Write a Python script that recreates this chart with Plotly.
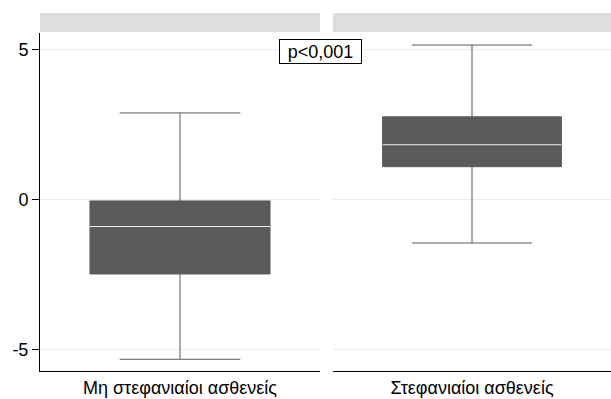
import plotly.graph_objects as go
from plotly.subplots import make_subplots

# Data
groups = ["Μη στεφανιαίοι ασθενείς", "Στεφανιαίοι ασθενείς"]
lower_whisker = [-5.32, -1.45]
q1_vals = [-2.48, 1.09]
median_vals = [-0.90, 1.82]
q3_vals = [-0.05, 2.75]
upper_whisker = [2.88, 5.14]
y_ticks = [-5, 0, 5]
y_tick_labels = ["-5", "0", "5"]
p_text = "p<0,001"

BOX_COLOR = "#5a5a5a"
BOX_WIDTH = 0.643
FONT = "Liberation Sans, Arial, sans-serif"
FS = 18

fig = make_subplots(rows=1, cols=2, shared_yaxes=True, horizontal_spacing=0.02)
W, H = 611, 399
ml, mr, mt, mb = 40, 0, 33, 28

for i, g in enumerate(groups):
    col = i + 1
    fig.add_trace(go.Box(
        x=[0], q1=[q1_vals[i]], median=[median_vals[i]], q3=[q3_vals[i]],
        lowerfence=[lower_whisker[i]], upperfence=[upper_whisker[i]],
        fillcolor=BOX_COLOR, line=dict(color=BOX_COLOR, width=1),
        width=BOX_WIDTH, whiskerwidth=0.67, boxpoints=False,
        showlegend=False, hoverinfo="skip",
    ), row=1, col=col)
    fig.add_trace(go.Scatter(
        x=[-BOX_WIDTH / 2, BOX_WIDTH / 2], y=[median_vals[i], median_vals[i]],
        mode="lines", line=dict(color="#f2f2f2", width=1.2),
        showlegend=False, hoverinfo="skip",
    ), row=1, col=col)

plot_w = W - ml - mr
d1 = [0, (320 - ml) / plot_w]
d2 = [(333 - ml) / plot_w, 1]
axis_common = dict(range=[-0.5, 0.5], tickvals=[0], showgrid=False, zeroline=False,
                   showline=True, linecolor="black", linewidth=1, ticks="",
                   tickfont=dict(family=FONT, size=FS, color="black"), automargin=False)
fig.update_xaxes(**axis_common, domain=d1, ticktext=[groups[0]], row=1, col=1)
fig.update_xaxes(**axis_common, domain=d2, ticktext=[groups[1]], row=1, col=2)

fig.update_yaxes(range=[-5.71, 5.54], tickvals=y_ticks, ticktext=y_tick_labels,
                 showgrid=True, gridcolor="#ececec",
                 gridwidth=1, zeroline=False, automargin=False)
fig.update_yaxes(showline=True, linecolor="black", linewidth=1, ticks="outside", ticklen=7,
                 tickcolor="black", tickfont=dict(family=FONT, size=FS, color="black"),
                 row=1, col=1)
fig.update_yaxes(showline=False, showticklabels=False, row=1, col=2)

# strip headers
plot_h = H - mt - mb
for xr in ["x domain", "x2 domain"]:
    fig.add_shape(type="rect", xref=xr, yref="paper", x0=0, x1=1,
                  y0=1 + 1 / plot_h, y1=1 + 20 / plot_h,
                  fillcolor="#dedede", line=dict(width=0), layer="below")

fig.add_annotation(text=p_text, xref="paper", x=(320 - ml) / plot_w, yref="y", y=4.91,
                   showarrow=False, font=dict(family=FONT, size=FS, color="black"),
                   bordercolor="black", borderwidth=1, borderpad=0, bgcolor="white",
                   width=81, height=23, align="center",
                   xanchor="center", yanchor="middle")

fig.update_layout(width=W, height=H, margin=dict(l=ml, r=mr, t=mt, b=mb),
                  paper_bgcolor="white", plot_bgcolor="white",
                  font=dict(family=FONT, size=FS, color="black"))

fig.write_html("out.html", config={"displayModeBar": False},
               post_script="document.body.style.margin='0';")
